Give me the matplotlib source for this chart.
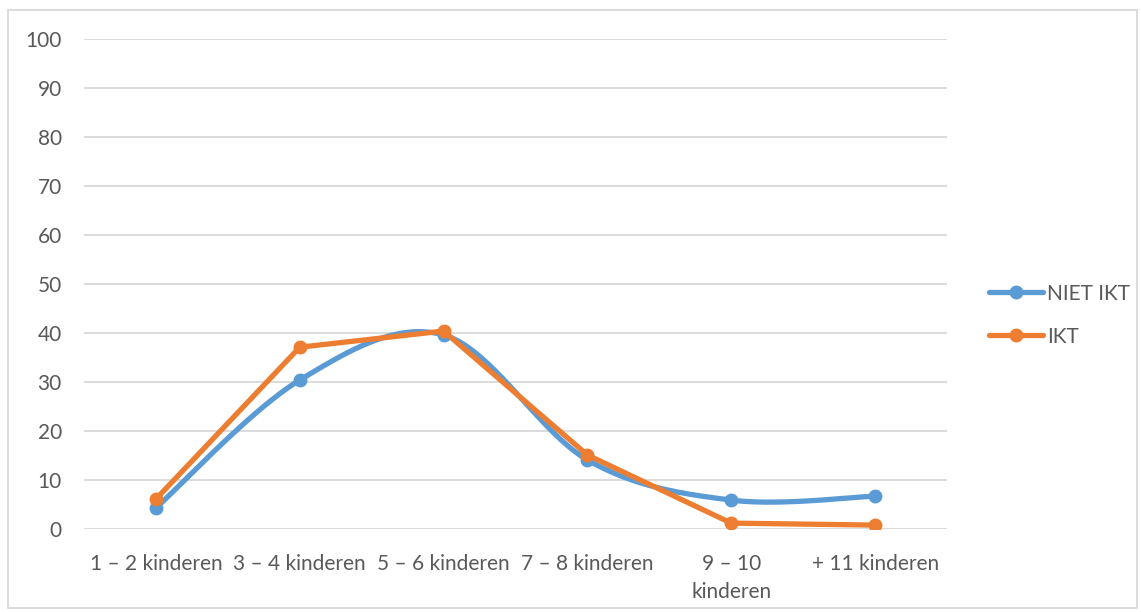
import numpy as np
import matplotlib.pyplot as plt
from matplotlib.patches import Rectangle

categories = ['1 – 2 kinderen', '3 – 4 kinderen', '5 – 6 kinderen', '7 – 8 kinderen',
              '9 – 10\nkinderen', '+ 11 kinderen']
niet_ikt = [4.3, 30.4, 39.6, 14.1, 5.9, 6.7]
ikt = [6.1, 37.1, 40.4, 15.1, 1.2, 0.8]

blue = '#5b9bd5'
orange = '#ed7d31'
grey_text = '#595959'

plt.rcParams['font.family'] = ['Lato', 'DejaVu Sans']


# Excel style smoothed line (Catmull-Rom through the points)
def smooth(x, y, n=40):
    x = np.asarray(x, float)
    y = np.asarray(y, float)
    px = np.concatenate([[x[0]], x, [x[-1]]])
    py = np.concatenate([[y[0]], y, [y[-1]]])
    xs, ys = [], []
    t = np.linspace(0, 1, n)
    for i in range(1, len(px) - 2):
        p0, p1, p2, p3 = (np.array([px[j], py[j]]) for j in (i - 1, i, i + 1, i + 2))
        c1 = p1 + (p2 - p0) / 6
        c2 = p2 - (p3 - p1) / 6
        b = ((1 - t) ** 3)[:, None] * p1 + (3 * (1 - t) ** 2 * t)[:, None] * c1 \
            + (3 * (1 - t) * t ** 2)[:, None] * c2 + (t ** 3)[:, None] * p2
        xs.extend(b[:, 0])
        ys.extend(b[:, 1])
    return np.array(xs), np.array(ys)


fig = plt.figure(figsize=(11.41, 6.12), dpi=100)
ax = fig.add_axes([0.0736, 0.1356, 0.830 - 0.0736, 0.9363 - 0.1356])

lw = 3.8
ms = 9
x = np.arange(len(categories))
sx, sy = smooth(x, niet_ikt)
ax.plot(sx, sy, color=blue, lw=lw, solid_capstyle='round', zorder=3)
ax.plot(x, niet_ikt, 'o', color=blue, ms=ms, zorder=3)
ax.plot(x, ikt, color=orange, lw=lw, marker='o', ms=ms, solid_capstyle='round',
        solid_joinstyle='round', zorder=4)

# legend handles
h1, = ax.plot([], [], color=blue, lw=lw, marker='o', ms=ms, solid_capstyle='round')
h2, = ax.plot([], [], color=orange, lw=lw, marker='o', ms=ms, solid_capstyle='round')
leg = fig.legend([h1, h2], ['NIET IKT', 'IKT'], loc='center left',
                 bbox_to_anchor=(0.850, 0.485), frameon=False, fontsize=15,
                 handlelength=2.6, handletextpad=0.2, labelspacing=1.1,
                 labelcolor=grey_text)

ax.set_xlim(-0.5, 5.5)
ax.set_ylim(0, 100)
ax.set_yticks(np.arange(0, 101, 10))
ax.set_xticks(x)
ax.set_xticklabels(categories)
ax.grid(axis='y', color='#d9d9d9', lw=1.3)
ax.set_axisbelow(True)
for s in ax.spines.values():
    s.set_visible(False)
ax.tick_params(axis='both', length=0, labelsize=15, colors=grey_text)
ax.tick_params(axis='y', pad=16)
ax.tick_params(axis='x', pad=18)
for lab in ax.get_xticklabels():
    lab.set_linespacing(1.5)
    lab.set_verticalalignment('top')

# chart border
fig.patches.append(Rectangle((8 / 1141, 4 / 612), 1 - 12 / 1141, 1 - 14 / 612,
                             transform=fig.transFigure, fill=False,
                             edgecolor='#d9d9d9', lw=1.3))

fig.savefig('out.png', dpi=100)
